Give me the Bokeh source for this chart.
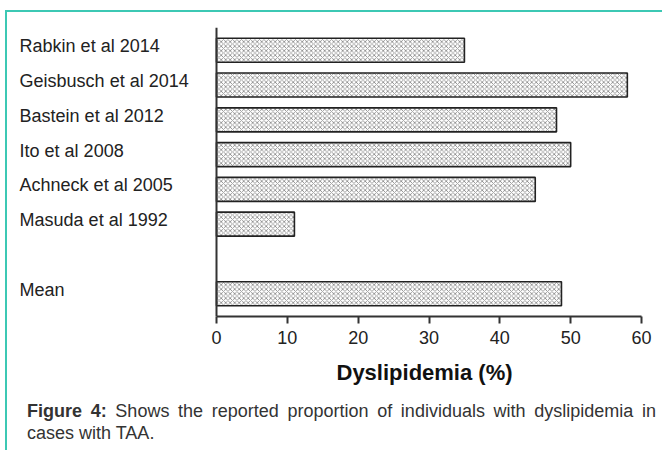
from bokeh.plotting import figure
from bokeh.models import FactorRange, Range1d, FixedTicker, ColumnDataSource, Div, Span, Title
from bokeh.layouts import column
from bokeh.core.properties import value
from bokeh.embed import file_html
from bokeh.resources import INLINE

studies = ["Rabkin et al 2014", "Geisbusch et al 2014", "Bastein et al 2012",
           "Ito et al 2008", "Achneck et al 2005", "Masuda et al 1992"]
study_values = [35, 58, 48, 50, 45, 11]
mean_label = "Mean"
mean_value = 48.7
x_ticks = [0, 10, 20, 30, 40, 50, 60]
x_title = "Dyslipidemia (%)"
caption_bold = "Figure 4:"
caption_text = "Shows the reported proportion of individuals with dyslipidemia in cases with TAA."

gap = " "
labels = studies + [mean_label]
values = study_values + [mean_value]
factors = list(reversed(studies + [gap, mean_label]))

X_MIN, X_MAX = 0, 60
LABEL_X = -27.8   # where the category names start (left of the axis)

src = ColumnDataSource(dict(y=labels, v=values, t=labels, lx=[LABEL_X] * len(labels)))

FONT = "Liberation Sans"
TEAL = "#3cc8b4"

p = figure(width=655, height=383, x_range=Range1d(-28.8, X_MAX),
           y_range=FactorRange(*factors, range_padding=0.155, range_padding_units="absolute"),
           output_backend="svg", toolbar_location=None,
           min_border_left=5, min_border_right=21, min_border_top=15, min_border_bottom=77)
p.outline_line_color = None
p.grid.visible = False

p.hbar(y="y", right="v", left=0, height=0.69, source=src,
       fill_color="white", line_color="#222222", line_width=1.6,
       hatch_pattern="diagonal_cross", hatch_color="#707070", hatch_scale=4.5,
       hatch_weight=0.7)

p.text(x="lx", y="y", text="t", source=src, text_font=value(FONT),
       text_font_size="18px", text_color="#222222", text_baseline="middle",
       text_align="left", y_offset=-4)

xa = p.xaxis[0]
xa.bounds = (X_MIN, X_MAX)
xa.ticker = FixedTicker(ticks=x_ticks)
xa.axis_line_width = 2
xa.axis_line_color = "#333333"
xa.major_tick_line_width = 2
xa.major_tick_line_color = "#333333"
xa.major_tick_in = 0
xa.major_tick_out = 7
xa.minor_tick_line_color = None
xa.major_label_text_font = FONT
xa.major_label_text_font_size = "18px"
xa.major_label_text_color = "#222222"
xa.major_label_standoff = 7

p.add_layout(Title(text=x_title, align="left", offset=324, text_font=FONT,
                   text_font_style="bold", text_font_size="22px",
                   text_color="#111111", standoff=22), "below")

p.yaxis.visible = False
p.add_layout(Span(location=X_MIN, dimension="height", line_color="#333333", line_width=2))

cap = Div(text=f"<b>{caption_bold}</b> {caption_text}", width=655, height=50,
          styles={"font-family": FONT, "font-size": "18px", "line-height": "22px",
                  "text-align": "justify", "color": "#333333",
                  "padding": "0px 11px 0 15px", "box-sizing": "border-box"})

layout = column(p, cap, margin=(10, 0, 0, 5),
                styles={"border-top": f"2px solid {TEAL}",
                        "border-left": f"2px solid {TEAL}"})

open("out.html", "w").write(file_html(layout, INLINE))
